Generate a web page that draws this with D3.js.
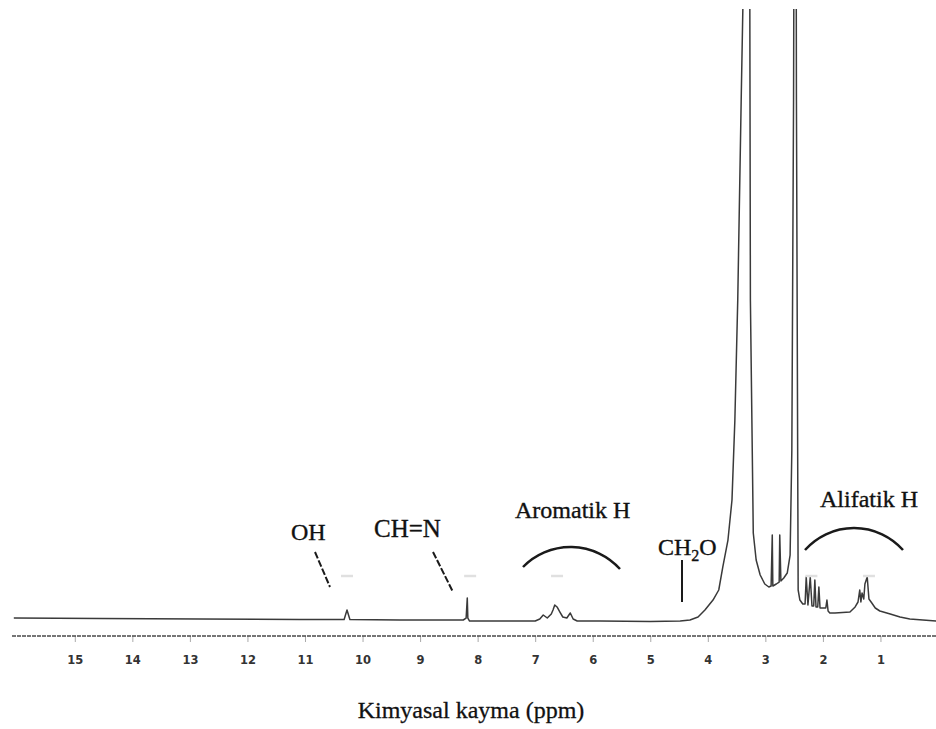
<!DOCTYPE html>
<html>
<head>
<meta charset="utf-8">
<script src="https://cdn.jsdelivr.net/npm/d3@7"></script>
<style>
  html, body { margin: 0; padding: 0; background: #fff; }
  svg { display: block; }
</style>
</head>
<body>
<svg id="chart" width="936" height="729"></svg>
<script>
// 1H NMR trace: chemical shift (ppm) and relative signal intensity
const shiftPpm = [
  16.06, 14.56, 12.82, 11.09, 10.32, 10.27, 10.22, 9.35,
  8.25, 8.20, 8.18, 8.17, 8.14, 7.61, 7.00, 6.92,
  6.86, 6.79, 6.72, 6.69, 6.66, 6.62, 6.57, 6.52, 6.45, 6.39, 6.34, 6.27,
  5.87, 5.00, 4.48, 4.31, 4.17, 4.05, 3.91, 3.81, 3.74, 3.65, 3.58, 3.53,
  3.48, 3.42, 3.39, 3.33, 3.27, 3.26, 3.21, 3.16, 3.09, 3.01,
  2.94, 2.90, 2.88, 2.87, 2.81, 2.76, 2.75, 2.73, 2.68, 2.62, 2.57, 2.54,
  2.51, 2.48, 2.46, 2.43, 2.40, 2.35, 2.31, 2.29, 2.26, 2.22, 2.19, 2.16,
  2.14, 2.12, 2.09, 2.07, 2.05, 2.00, 1.95, 1.93, 1.91, 1.88, 1.79, 1.53,
  1.44, 1.39, 1.36, 1.34, 1.32, 1.29, 1.27, 1.23, 1.20, 1.15, 1.09, 1.01,
  0.83, 0.66, 0.49, 0.03
];
const signal = [
  0.33, 0.25, 0.17, 0.08, 0.08, 1.67, 0.08, 0,
  0, 0.3, 3.67, 0.3, -0.17, -0.17, -0.17, 0.17,
  0.83, 0.33, 1.0, 1.67, 2.5, 2.17, 1.33, 0.5, 0.33, 1.17, 0.17, -0.17,
  -0.17, -0.25, -0.17, 0, 0.5, 1.67, 3.33, 5.0, 8.83, 13.33, 20, 33.3,
  53.3, 86.7, 102.5, 186.7, 102.5, 53.3, 14.5, 10, 7.5, 6,
  5.5, 5.67, 14.17, 5.67, 6, 6.33, 14.17, 6.5, 7, 7.83, 10.83, 28.3,
  86.7, 200, 86.7, 5, 3.33, 2.67, 2.67, 7.17, 2.5, 7.17, 2.33, 2.33,
  6.67, 2.17, 2.17, 5.5, 2.0, 2.0, 2.0, 3.33, 1.5, 1.17, 1.17, 1.33,
  2.17, 3.0, 5.0, 3.0, 4.5, 3.5, 6.0, 7.17, 3.5, 2.83, 2.0, 1.5,
  1.0, 0.5, 0.17, -0.17
];
const tickPpm = [15, 14, 13, 12, 11, 10, 9, 8, 7, 6, 5, 4, 3, 2, 1];
const tickLabels = ["15", "14", "13", "12", "11", "10", "9", "8", "7", "6", "5", "4", "3", "2", "1"];
// faint integral marks printed over the signal groups (ppm)
const integralPpm = [10.27, 8.13, 6.62, 2.2, 1.2];
const axisTitle = "Kimyasal kayma (ppm)";

const svg = d3.select("#chart");
const serif = "'Liberation Serif', 'Times New Roman', serif";

const x = d3.scaleLinear().domain([16.3, 0]).range([0, 938]);
const y = d3.scaleLinear().domain([0, 100]).range([620, 20]);

const points = shiftPpm.map((p, i) => [p, signal[i]]);

svg.append("defs").append("clipPath").attr("id", "plotClip")
  .append("rect").attr("x", 0).attr("y", 9).attr("width", 936).attr("height", 640);

// spectrum trace
svg.append("path")
  .datum(points)
  .attr("clip-path", "url(#plotClip)")
  .attr("fill", "none")
  .attr("stroke", "#3a3a3a")
  .attr("stroke-width", 1.5)
  .attr("stroke-linejoin", "round")
  .attr("d", d3.line().x(d => x(d[0])).y(d => y(d[1])));

// integral marks
svg.append("g").selectAll("line")
  .data(integralPpm)
  .join("line")
  .attr("x1", d => x(d) - 6).attr("x2", d => x(d) + 6)
  .attr("y1", 576).attr("y2", 576)
  .attr("stroke", "#e0e0e0").attr("stroke-width", 2.5);

// chemical shift axis
const axis = d3.axisBottom(x)
  .tickValues(tickPpm)
  .tickFormat((d, i) => tickLabels[i])
  .tickSizeInner(6).tickSizeOuter(0).tickPadding(14);

const gAxis = svg.append("g").attr("transform", "translate(0,636)").call(axis);
gAxis.select(".domain").remove();
gAxis.append("line")
  .attr("x1", 12).attr("x2", 936).attr("y1", 0).attr("y2", 0)
  .attr("stroke", "#4a4a4a").attr("stroke-width", 1.6)
  .attr("stroke-dasharray", "4,1");
gAxis.selectAll(".tick line").attr("stroke", "#aaa").attr("stroke-width", 1);
gAxis.selectAll(".tick text")
  .attr("fill", "#333")
  .style("font-family", "'DejaVu Sans', sans-serif")
  .style("font-size", "11.5px")
  .style("font-weight", "bold");

svg.append("text")
  .attr("x", 471).attr("y", 718)
  .attr("text-anchor", "middle")
  .style("font-family", serif).style("font-size", "24px")
  .attr("fill", "#111").attr("stroke", "#111").attr("stroke-width", 0.3)
  .text(axisTitle);

// peak annotations
const ann = svg.append("g")
  .attr("fill", "#111").attr("stroke", "#111").attr("stroke-width", 0.35)
  .style("font-family", serif).style("font-size", "24px");
ann.append("text").attr("x", 291).attr("y", 540).text("OH");
ann.append("text").attr("x", 374).attr("y", 537).style("font-size", "25px").text("CH=N");
ann.append("text").attr("x", 515).attr("y", 518).text("Aromatik H");
ann.append("text").attr("x", 820).attr("y", 507).text("Alifatik H");
const ch2o = ann.append("text").attr("x", 658).attr("y", 555);
ch2o.append("tspan").text("CH");
ch2o.append("tspan").attr("dy", 6).style("font-size", "16px").text("2");
ch2o.append("tspan").attr("dy", -6).text("O");

const lines = svg.append("g").attr("stroke", "#1a1a1a").attr("fill", "none");
lines.append("line").attr("x1", 315).attr("y1", 552).attr("x2", 330).attr("y2", 587)
  .attr("stroke-width", 2).attr("stroke-dasharray", "7,2");
lines.append("line").attr("x1", 433).attr("y1", 552).attr("x2", 453).attr("y2", 592)
  .attr("stroke-width", 2).attr("stroke-dasharray", "7,2");
lines.append("line").attr("x1", 682).attr("y1", 560).attr("x2", 682).attr("y2", 602)
  .attr("stroke-width", 2);
lines.append("path").attr("d", "M523,567 A66.5,66.5 0 0 1 620,569").attr("stroke-width", 2.5);
lines.append("path").attr("d", "M805,550 A65.6,65.6 0 0 1 903,550").attr("stroke-width", 2.5);
</script>
</body>
</html>
